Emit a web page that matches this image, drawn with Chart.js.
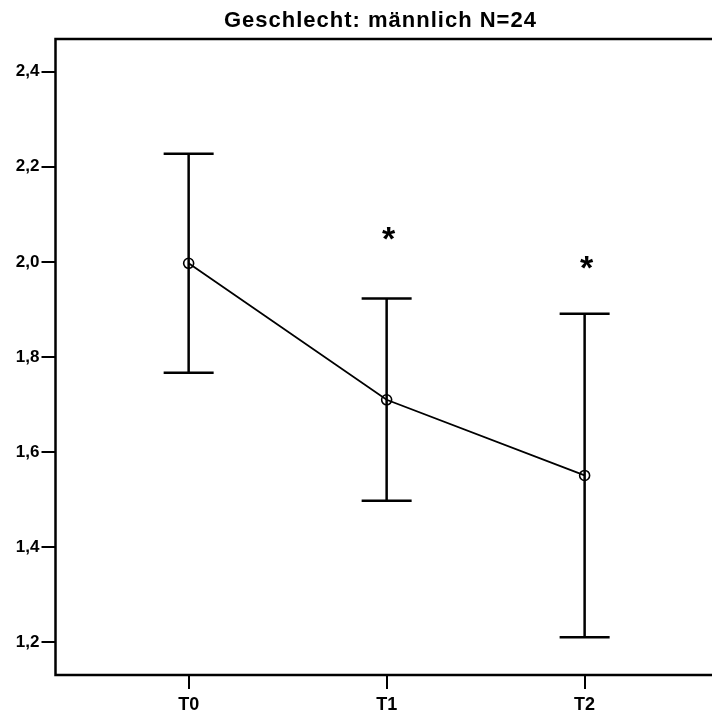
<!DOCTYPE html>
<html>
<head>
<meta charset="utf-8"/>
<title>Geschlecht: männlich N=24</title>
<script src="https://cdn.jsdelivr.net/npm/chart.js"></script>
<style>
  body { margin: 0; background: #fff; }
  #wrap { width: 712px; height: 716px; }
</style>
</head>
<body>
<div id="wrap"><canvas id="meanChart"></canvas></div>
<script>
  const titleText = 'Geschlecht: männlich N=24';
  const zeitpunkte = ['T0', 'T1', 'T2'];
  const mittelwerte = [1.997, 1.710, 1.551];
  const ciOben = [2.227, 1.923, 1.891];
  const ciUnten = [1.767, 1.498, 1.211];
  const signifikanz = ['', '*', '*'];
  const sternWert = [null, 2.059, 1.998];
  const yTicks = [1.2, 1.4, 1.6, 1.8, 2.0, 2.2, 2.4];

  const FONT = "'Liberation Sans', Arial, sans-serif";

  // frame, error bars, asterisks and title
  const spssDeko = {
    id: 'spssDeko',
    beforeDatasetsDraw(chart) {
      const { ctx, scales } = chart;
      ctx.save();
      ctx.strokeStyle = '#000';
      ctx.lineWidth = 2.5;
      ctx.lineCap = 'butt';
      zeitpunkte.forEach((t, i) => {
        const x = scales.x.getPixelForValue(i);
        const yo = scales.y.getPixelForValue(ciOben[i]);
        const yu = scales.y.getPixelForValue(ciUnten[i]);
        ctx.beginPath();
        ctx.moveTo(x, yo); ctx.lineTo(x, yu);
        ctx.moveTo(x - 25, yo); ctx.lineTo(x + 25, yo);
        ctx.moveTo(x - 25, yu); ctx.lineTo(x + 25, yu);
        ctx.stroke();
      });
      ctx.restore();
    },
    afterDraw(chart) {
      const { ctx, chartArea, scales } = chart;
      ctx.save();
      // Rahmen (oben, links, unten)
      ctx.strokeStyle = '#000';
      ctx.lineWidth = 2.5;
      ctx.beginPath();
      ctx.moveTo(chart.width + 5, chartArea.top);
      ctx.lineTo(chartArea.left, chartArea.top);
      ctx.lineTo(chartArea.left, chartArea.bottom);
      ctx.lineTo(chart.width + 5, chartArea.bottom);
      ctx.stroke();

      // Signifikanzsterne
      ctx.fillStyle = '#000';
      ctx.font = 'bold 34px ' + FONT;
      ctx.textAlign = 'center';
      ctx.textBaseline = 'alphabetic';
      signifikanz.forEach((s, i) => {
        if (!s) return;
        const m = ctx.measureText(s);
        const x = scales.x.getPixelForValue(i);
        const y = scales.y.getPixelForValue(sternWert[i]);
        const off = (m.actualBoundingBoxAscent - m.actualBoundingBoxDescent) / 2;
        ctx.fillText(s, x + 2, y + off);
      });

      // Titel
      ctx.font = 'bold 22px ' + FONT;
      ctx.letterSpacing = '1px';
      ctx.fillText(titleText, (chartArea.left + chartArea.right) / 2, 27);
      ctx.restore();
    }
  };

  const ctx = document.getElementById('meanChart').getContext('2d');
  new Chart(ctx, {
    type: 'line',
    data: {
      datasets: [{
        label: 'Mittelwert',
        data: mittelwerte.map((v, i) => ({ x: i, y: v })),
        borderColor: '#000',
        borderWidth: 1.8,
        backgroundColor: 'rgba(0,0,0,0)',
        pointStyle: 'circle',
        pointRadius: 5,
        pointBorderWidth: 1.6,
        pointBorderColor: '#000',
        pointBackgroundColor: 'rgba(0,0,0,0)',
        tension: 0
      }]
    },
    options: {
      responsive: true,
      maintainAspectRatio: false,
      animation: false,
      layout: { padding: { top: 39, right: 0, left: 0, bottom: 0 } },
      plugins: {
        legend: { display: false },
        tooltip: { enabled: false },
        title: { display: false }
      },
      scales: {
        x: {
          type: 'linear',
          min: -0.6725,
          max: 2.61,
          afterFit(scale) { scale.height = 41; },
          afterBuildTicks(scale) { scale.ticks = zeitpunkte.map((t, i) => ({ value: i })); },
          border: { display: false },
          grid: { drawOnChartArea: false, drawTicks: true, tickLength: 14, color: '#000', lineWidth: 2 },
          ticks: {
            color: '#000',
            padding: 5,
            maxRotation: 0,
            font: { family: FONT, size: 18, weight: 'bold' },
            callback: (v) => zeitpunkte[v]
          }
        },
        y: {
          min: 1.1316,
          max: 2.4684,
          afterFit(scale) { scale.width = 55.5; },
          afterBuildTicks(scale) { scale.ticks = yTicks.map(v => ({ value: v })); },
          border: { display: false },
          grid: { drawOnChartArea: false, drawTicks: true, tickLength: 14, color: '#000', lineWidth: 2 },
          ticks: {
            color: '#000',
            padding: 2,
            font: { family: FONT, size: 17, weight: 'bold' },
            callback: (v) => v.toFixed(1).replace('.', ',')
          }
        }
      }
    },
    plugins: [spssDeko]
  });
</script>
</body>
</html>
